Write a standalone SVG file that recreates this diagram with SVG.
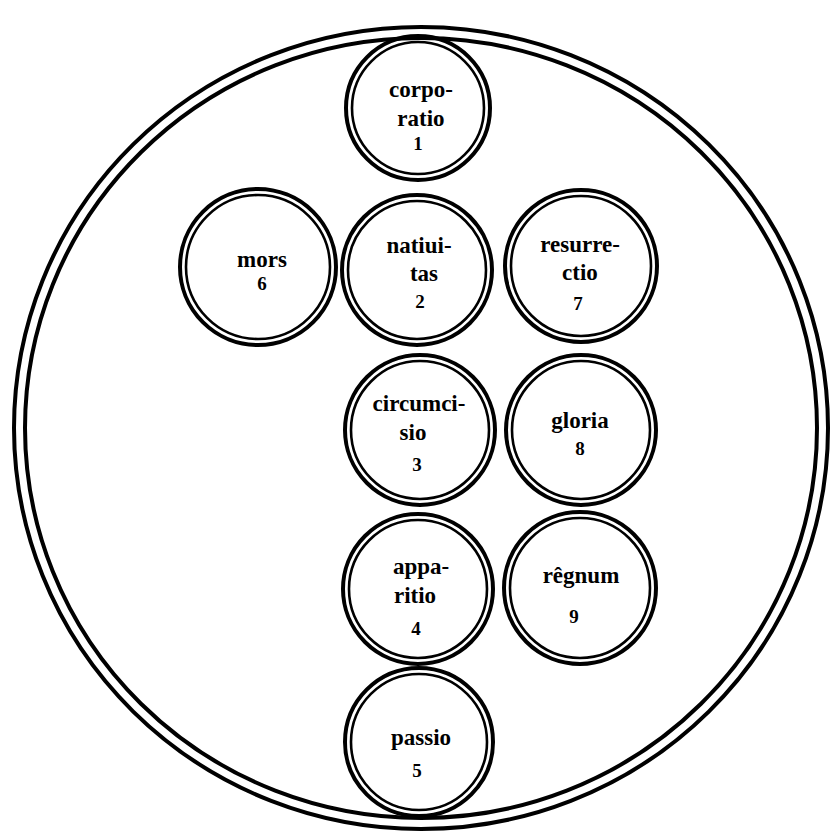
<svg xmlns="http://www.w3.org/2000/svg" width="833" height="839" viewBox="0 0 833 839">
<style>
.ro{fill:none;stroke:#000;stroke-width:4}
.ri{fill:none;stroke:#000;stroke-width:2.6}
.bo{fill:none;stroke:#000;stroke-width:4}
.t{font-family:"Liberation Serif","DejaVu Serif",serif;font-size:23px;font-weight:bold;fill:#000;text-anchor:middle}
.n{font-family:"Liberation Serif","DejaVu Serif",serif;font-size:19px;font-weight:bold;fill:#000;text-anchor:middle}
</style>
<rect width="833" height="839" fill="#fff"/>
<g id="frame">
<ellipse class="bo" cx="421" cy="428" rx="407" ry="401"/>
<ellipse class="bo" cx="421" cy="428" rx="396" ry="390"/>
</g>
<g id="connectors"></g>
<g id="n1">
<circle cx="418" cy="108" r="72" fill="#fff" class="ro"/><circle cx="418" cy="108" r="66" class="ri"/>
<text class="t" x="421" y="97">corpo-</text><text class="t" x="421" y="126">ratio</text><text class="n" x="418" y="150">1</text>
</g>
<g id="n2">
<circle cx="417" cy="270" r="75" fill="#fff" class="ro"/><circle cx="417" cy="270" r="69" class="ri"/>
<text class="t" x="419" y="253">natiui-</text><text class="t" x="424" y="281">tas</text><text class="n" x="420" y="308">2</text>
</g>
<g id="n6">
<circle cx="258" cy="267" r="78" fill="#fff" class="ro"/><circle cx="258" cy="267" r="72" class="ri"/>
<text class="t" x="262" y="267">mors</text><text class="n" x="262" y="290">6</text>
</g>
<g id="n7">
<circle cx="581" cy="266" r="76" fill="#fff" class="ro"/><circle cx="581" cy="266" r="70" class="ri"/>
<text class="t" x="580" y="252">resurre-</text><text class="t" x="580" y="280">ctio</text><text class="n" x="578" y="310">7</text>
</g>
<g id="n3">
<circle cx="420" cy="430" r="75" fill="#fff" class="ro"/><circle cx="420" cy="430" r="69" class="ri"/>
<text class="t" x="419" y="411">circumci-</text><text class="t" x="413" y="440">sio</text><text class="n" x="417" y="471">3</text>
</g>
<g id="n8">
<circle cx="581" cy="430" r="75" fill="#fff" class="ro"/><circle cx="581" cy="430" r="69" class="ri"/>
<text class="t" x="580" y="428">gloria</text><text class="n" x="580" y="455">8</text>
</g>
<g id="n4">
<circle cx="418" cy="589" r="75" fill="#fff" class="ro"/><circle cx="418" cy="589" r="69" class="ri"/>
<text class="t" x="421" y="574">appa-</text><text class="t" x="415" y="603">ritio</text><text class="n" x="416" y="635">4</text>
</g>
<g id="n9">
<circle cx="580" cy="588" r="76" fill="#fff" class="ro"/><circle cx="580" cy="588" r="70" class="ri"/>
<text class="t" x="581" y="583">rêgnum</text><text class="n" x="574" y="623">9</text>
</g>
<g id="n5">
<circle cx="419" cy="742" r="74" fill="#fff" class="ro"/><circle cx="419" cy="742" r="68" class="ri"/>
<text class="t" x="421" y="745">passio</text><text class="n" x="417" y="777">5</text>
</g>
</svg>
